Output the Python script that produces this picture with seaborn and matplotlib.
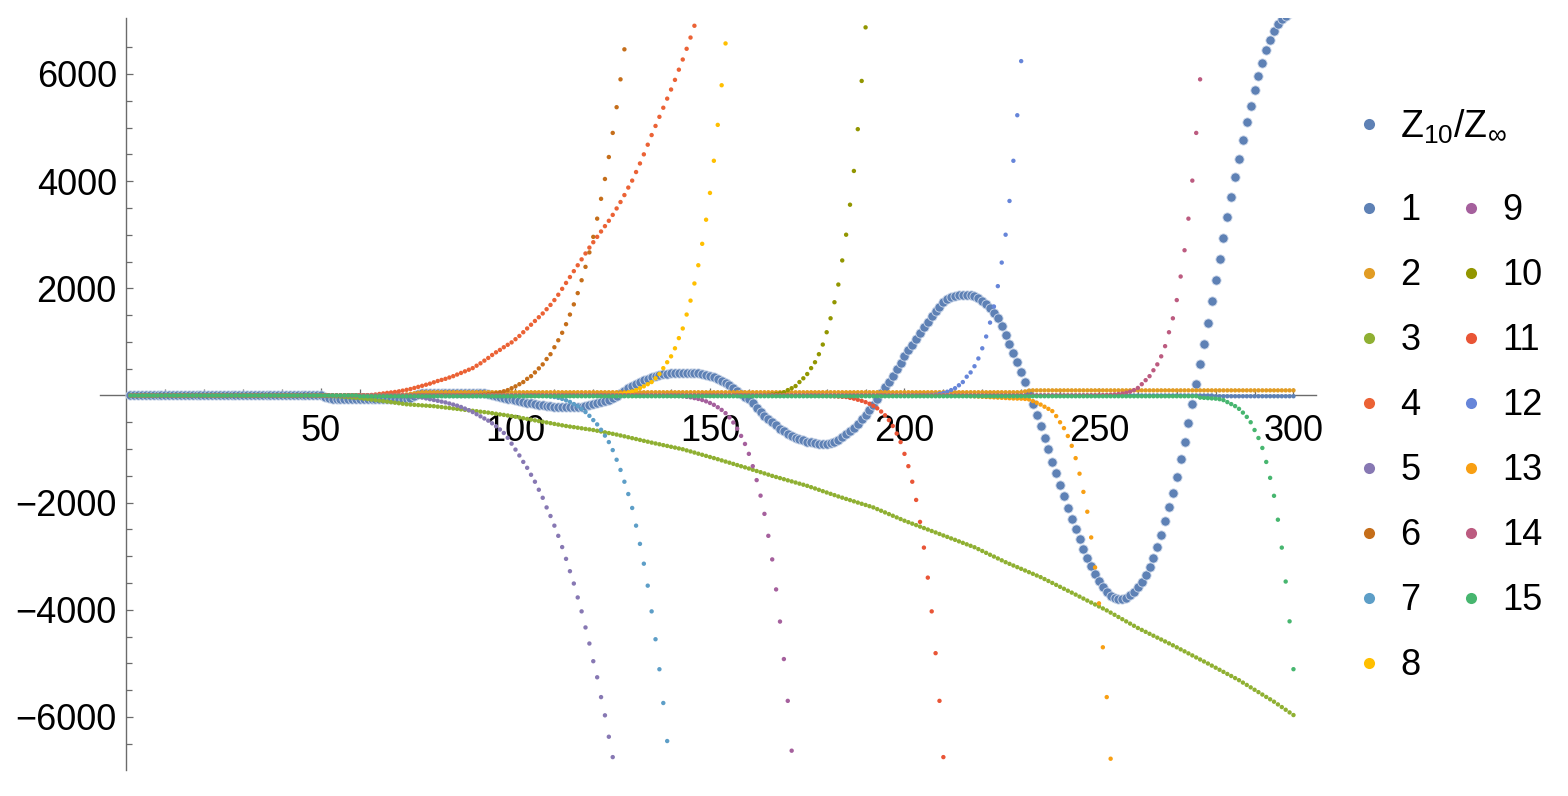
import numpy as np
import pandas as pd
import matplotlib
matplotlib.use("Agg")
import matplotlib.pyplot as plt
from matplotlib.lines import Line2D
import seaborn as sns

# ---- data, x = 1..300 ----
x_all = np.arange(1, 301)

# Z10/Zinf (big dots), one value per x
z_vals = ([0] * 50
          + [-20, -45, -60] + [-65] * 19 + [-40, -10, 25, 45] + [50] * 15 + [45]
          + [35, 15, -5, -25, -45, -60, -75, -90, -105, -120, -135, -148, -160, -172,
             -183, -193, -202, -210, -216, -220, -222, -222, -220, -215, -207, -195, -182, -167]
          + [-150, -130, -105, -80, -45, -5, 40, 85, 130, 175, 215, 250, 285, 315, 340,
             362, 380, 395, 407, 416, 422, 426, 428, 428, 425, 420, 412, 400, 385, 365,
             340, 310, 275, 235, 190, 140, 85, 30, -20, -70]
          + [-150, -230, -310, -375, -440, -500, -560, -620, -670, -715, -755, -790, -815,
             -840, -860, -878, -892, -902, -905, -900, -885, -860, -825, -780, -725, -665,
             -600, -525, -445, -360, -265, -170, -65]
          + [45, 150, 260, 369, 490, 610, 731, 840, 950, 1060, 1166, 1270, 1375, 1475, 1570,
             1660, 1740, 1800, 1840, 1865, 1878, 1884, 1882, 1875, 1855, 1820, 1770, 1710,
             1630, 1545, 1445]
          + [1290, 1130, 965, 795, 620, 440, 250, 50, -155, -360,
             -570, -790, -1008, -1235, -1455, -1670, -1885, -2095, -2300, -2495,
             -2680, -2860, -3030, -3190, -3330, -3460, -3570, -3665, -3740, -3785,
             -3805, -3800, -3775, -3725, -3660, -3580, -3480, -3355, -3205, -3025,
             -2825, -2600, -2350, -2085, -1815, -1520, -1195, -860, -515, -160,
             210, 585, 965, 1360, 1765, 2150, 2550, 2930, 3330, 3710,
             4075, 4420, 4775, 5100, 5410, 5705, 5970, 6210, 6440, 6630,
             6800, 6930, 7020, 7090, 7140, 7170])

# terms 1..15: first x of the listed part and its values (flat 0 before it)
s1_start = 280
s1_vals = [-15] * 21

s2_start = 71
s2_vals = [10, 20, 30, 40, 50] + [60] * 155 + [75, 90] + [95] * 68

s3_start = 50
s3_vals = [-5, -8, -11, -14, -17, -20, -26, -32, -38, -44,
           -50, -59, -68, -78, -87, -96, -105, -115, -125, -135,
           -145, -155, -165, -170, -175, -180, -185, -190, -195, -200,
           -209, -217, -226, -234, -243, -251, -260, -269, -277, -286,
           -294, -303, -311, -320, -331, -342, -353, -363, -374, -385,
           -398, -412, -425, -438, -451, -465, -478, -491, -504, -517,
           -531, -544, -557, -570, -581, -591, -602, -613, -624, -634,
           -645, -659, -673, -688, -702, -716, -730, -747, -763, -780,
           -797, -813, -830, -847, -863, -880, -896, -911, -927, -942,
           -958, -973, -989, -1004, -1025, -1045, -1066, -1087, -1107, -1128,
           -1149, -1169, -1190, -1212, -1234, -1255, -1277, -1299, -1321, -1342,
           -1364, -1387, -1410, -1432, -1455, -1478, -1501, -1522, -1542, -1563,
           -1584, -1604, -1625, -1646, -1666, -1687, -1712, -1736, -1761, -1786,
           -1811, -1836, -1860, -1885, -1908, -1931, -1953, -1976, -1999, -2022,
           -2044, -2067, -2090, -2121, -2152, -2183, -2214, -2245, -2276, -2307,
           -2338, -2365, -2393, -2420, -2448, -2475, -2502, -2530, -2557, -2585,
           -2613, -2640, -2668, -2695, -2723, -2751, -2778, -2806, -2833, -2868,
           -2903, -2938, -2973, -3007, -3042, -3077, -3112, -3143, -3174, -3205,
           -3236, -3267, -3298, -3329, -3360, -3391, -3427, -3463, -3499, -3536,
           -3572, -3608, -3644, -3680, -3717, -3754, -3791, -3828, -3865, -3901,
           -3938, -3975, -4012, -4053, -4094, -4135, -4176, -4217, -4258, -4299,
           -4340, -4376, -4412, -4448, -4484, -4520, -4555, -4591, -4627, -4663,
           -4701, -4739, -4776, -4814, -4852, -4890, -4928, -4965, -5003, -5042,
           -5081, -5120, -5159, -5198, -5236, -5275, -5314, -5359, -5403, -5448,
           -5493, -5537, -5582, -5627, -5671, -5716, -5766, -5816, -5866, -5916,
           -5965]

s4_start = 60
s4_vals = [0, 3, 6, 10, 18, 28, 38, 48, 56, 65, 75, 90, 105, 120, 140, 160, 180, 200,
           220, 245, 270, 290, 310, 335, 360, 390, 420, 450, 480, 510, 555, 600, 650,
           700, 755, 805, 850, 900, 945, 990, 1050, 1110, 1180, 1250, 1320, 1390, 1460,
           1530, 1610, 1690, 1780, 1880, 1990, 2100, 2210, 2320, 2430, 2540, 2650, 2760,
           2860, 2960, 3060, 3160, 3260, 3370, 3490, 3610, 3740, 3880, 4010, 4170, 4330,
           4500, 4680, 4860, 5030, 5200, 5370, 5540, 5710, 5890, 6080, 6270, 6470, 6680,
           6900]

s5_start = 65
s5_vals = [0, -3, -6, -9, -12, -15, -18, -21, -24, -27, -30, -40, -55, -70, -85, -100,
           -115, -130, -150, -170, -190, -215, -245, -275, -310, -350, -390, -430, -470,
           -520, -575, -635, -700, -790, -900, -1010, -1120, -1240, -1350, -1480, -1610,
           -1760, -1910, -2090, -2250, -2430, -2620, -2830, -3050, -3280, -3510, -3770,
           -4030, -4330, -4630, -4960, -5260, -5630, -5970, -6370, -6750]

s6_start = 88
s6_vals = [0, 3, 6, 10, 15, 22, 30, 42, 58, 78, 100, 135, 170, 210, 250, 310, 360, 430,
           505, 580, 680, 770, 900, 1030, 1170, 1330, 1510, 1700, 1910, 2150, 2400, 2670,
           2960, 3300, 3670, 4040, 4450, 4900, 5380, 5900, 6460]

s7_start = 100
s7_vals = [0, -1, -2, -3, -4, -5, -6, -8, -10, -20, -30, -45, -65, -90, -120, -160, -200,
           -250, -310, -380, -460, -540, -640, -750, -870, -1020, -1200, -1390, -1610,
           -1840, -2100, -2430, -2770, -3140, -3550, -4030, -4550, -5110, -5740, -6450]

s8_start = 122
s8_vals = [0, 4, 8, 12, 18, 26, 38, 55, 75, 100, 135, 170, 210, 250, 320, 400, 510, 620,
           730, 880, 1070, 1250, 1510, 1770, 2090, 2430, 2830, 3280, 3780, 4380, 5050,
           5790, 6570]

s9_start = 132
s9_vals = [0, -1, -2, -3, -4, -5, -6, -7, -8, -9, -10, -15, -25, -35, -50, -65, -85,
           -110, -140, -175, -220, -270, -330, -410, -505, -620, -755, -905, -1090, -1320,
           -1580, -1870, -2210, -2620, -3060, -3620, -4220, -4920, -5700, -6630]

s10_start = 160
s10_vals = [0, 2, 4, 6, 8, 12, 18, 27, 40, 60, 100, 135, 175, 250, 320, 400, 510, 620,
            770, 950, 1180, 1440, 1740, 2070, 2520, 3000, 3560, 4190, 4970, 5870, 6870]

s11_start = 175
s11_vals = [0, -2, -4, -6, -8, -10, -12, -15, -20, -25, -30, -45, -60, -80, -100, -125,
            -155, -195, -240, -300, -370, -460, -570, -710, -870, -1090, -1320, -1610,
            -1950, -2360, -2840, -3400, -4030, -4810, -5700, -6750]

s12_start = 200
s12_vals = [0, 2, 3, 4, 5, 6, 8, 10, 15, 30, 45, 70, 100, 135, 190, 250, 350, 430, 545,
            690, 880, 1100, 1360, 1660, 2040, 2480, 3000, 3630, 4380, 5230, 6240]

s13_start = 215
s13_vals = [-5, -8, -12, -16, -20, -24, -28, -32, -36, -40, -44, -48, -52, -56, -58, -60,
            -65, -74, -105, -136, -170, -210, -250, -292, -385, -500, -610, -757, -940,
            -1170, -1460, -1800, -2170, -2650, -3210, -3880, -4700, -5630, -6780]

s14_start = 245
s14_vals = [0, 1, 2, 3, 4, 5, 6, 8, 12, 18, 25, 35, 50, 70, 100, 140, 210, 285, 360, 470,
            580, 730, 920, 1180, 1440, 1780, 2220, 2710, 3300, 4010, 4900, 5900]

s15_start = 60
s15_vals = [-15] * 216 + [-40, -45, -50, -55, -60, -70, -87, -124, -161, -199, -250, -320,
                          -400, -500, -645, -794, -980, -1241, -1538, -1873, -2319, -2840,
                          -3473, -4216, -5109]

term_names = [str(i) for i in range(1, 16)]
term_starts = [s1_start, s2_start, s3_start, s4_start, s5_start, s6_start, s7_start,
               s8_start, s9_start, s10_start, s11_start, s12_start, s13_start,
               s14_start, s15_start]
term_vals = [s1_vals, s2_vals, s3_vals, s4_vals, s5_vals, s6_vals, s7_vals, s8_vals,
             s9_vals, s10_vals, s11_vals, s12_vals, s13_vals, s14_vals, s15_vals]

# Mathematica-like default colours
term_colors = ["#5E81B5", "#E19C24", "#8FB032", "#EB6235", "#8778B3", "#C56E1A",
               "#5D9EC7", "#FFBF00", "#A5609D", "#929600", "#E95536", "#6685D9",
               "#F89F13", "#BC5B80", "#47B66F"]
z_color = "#5E81B5"
z_label = r"$\mathregular{Z_{10}/Z_{\infty}}$"

# long table for seaborn
rows = []
for name, start, vals in zip(term_names, term_starts, term_vals):
    y = [0] * (start - 1) + list(vals)
    rows.append(pd.DataFrame({"x": x_all[:len(y)], "y": y, "term": name}))
df = pd.concat(rows, ignore_index=True)

# ---- plot ----
sns.set_style("white")
plt.rcParams["font.family"] = ["Liberation Sans", "DejaVu Sans"]
plt.rcParams["text.color"] = "black"

fig = plt.figure(figsize=(15.68, 7.96), dpi=100)
ax = fig.add_axes([0.0638, 0.0327, 0.7755, 0.9447])

sns.scatterplot(x=x_all, y=z_vals, color=z_color, s=44, edgecolor="#cdd8ea",
                linewidth=0.6, ax=ax, zorder=3, legend=False)
sns.scatterplot(data=df, x="x", y="y", hue="term", palette=dict(zip(term_names, term_colors)),
                s=10, linewidth=0, ax=ax, zorder=3, legend=False)

ax.set_xlim(-6.8, 305.8)
ax.set_ylim(-6990, 7045)
ax.set_xlabel("")
ax.set_ylabel("")

# axes through the origin
for side in ["top", "right"]:
    ax.spines[side].set_visible(False)
ax.spines["left"].set_position(("data", 0))
ax.spines["bottom"].set_position(("data", 0))
for side in ["left", "bottom"]:
    ax.spines[side].set_color("#6b6b6b")
    ax.spines[side].set_linewidth(1.0)
    ax.spines[side].set_zorder(1)

ax.set_xticks([50, 100, 150, 200, 250, 300])
ax.set_xticks([v for v in range(10, 300, 10) if v % 50 != 0], minor=True)
ax.set_yticks([-6000, -4000, -2000, 2000, 4000, 6000])
ax.set_yticks([v for v in range(-6500, 7000, 500) if v % 2000 != 0], minor=True)

ax.tick_params(which="both", direction="in", color="#6b6b6b", width=0.9,
               bottom=True, left=True, labelcolor="black")
ax.tick_params(which="major", length=5.2)
ax.tick_params(which="minor", length=4.1)
ax.tick_params(axis="x", labelsize=26, pad=13)
ax.tick_params(axis="y", labelsize=26, pad=7)

# legends on the right
h_z = [Line2D([], [], ls="none", marker="o", ms=8, color=z_color, mec="none")]
fig.legend(h_z, [z_label], loc="upper left", bbox_to_anchor=(0.8627, 0.865),
           frameon=False, fontsize=27, handlelength=0.87, handletextpad=0.4,
           borderpad=0, borderaxespad=0)

h_terms = [Line2D([], [], ls="none", marker="o", ms=8, color=c, mec="none")
           for c in term_colors]
fig.legend(h_terms, term_names, loc="upper left", bbox_to_anchor=(0.8627, 0.757),
           ncol=2, frameon=False, fontsize=26, handlelength=0.9, handletextpad=0.42,
           labelspacing=0.83, columnspacing=0.95, borderpad=0, borderaxespad=0)

fig.savefig("out.png", dpi=100)
